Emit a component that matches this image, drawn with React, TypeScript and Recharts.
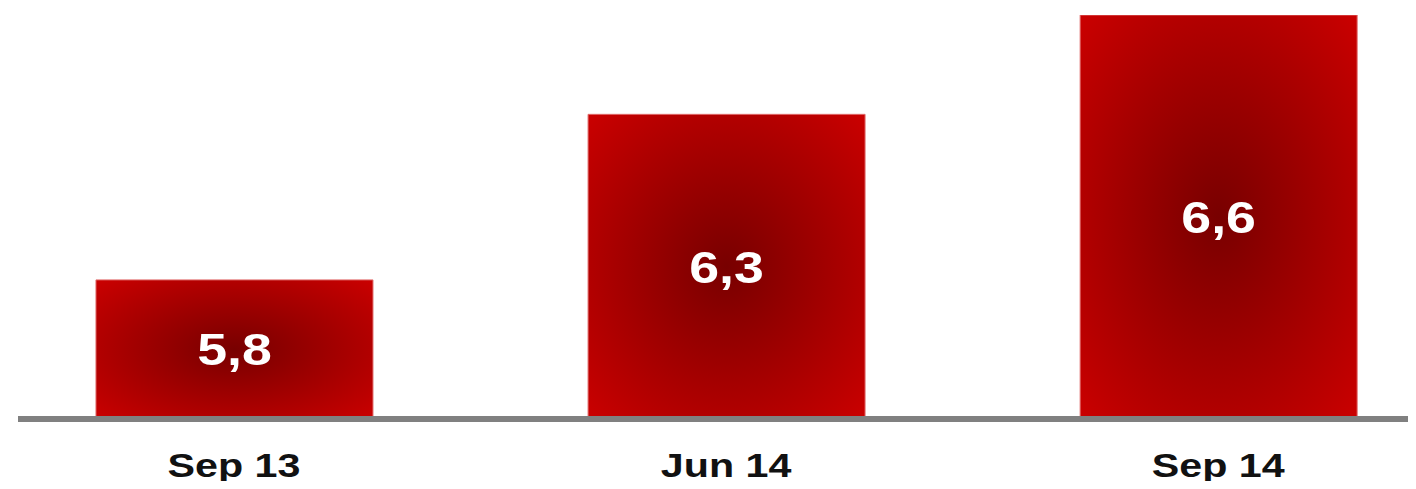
import React from 'react';
import { BarChart, Bar, XAxis, YAxis, LabelList } from 'recharts';

const periods = ['Sep 13', 'Jun 14', 'Sep 14'];
const values = [5.8, 6.3, 6.6];

const data = periods.map((period, i) => ({ idx: i, period, value: values[i] }));

// the source picture is stretched horizontally, so text gets a scaleX too
const STRETCH = 1.25;

const PeriodTick = (props: any) => {
  const { x, y, payload } = props;
  return (
    <text
      x={x}
      y={y + 50}
      textAnchor="middle"
      fill="#111"
      fontSize={33}
      fontWeight="bold"
      fontFamily="'Liberation Sans', Arial, sans-serif"
      transform={`translate(${x},0) scale(${STRETCH},1) translate(${-x},0)`}
    >
      {periods[payload.value]}
    </text>
  );
};

const ValueLabel = (props: any) => {
  const { x, y, width, height, value } = props;
  const cx = x + width / 2;
  const cy = y + height / 2;
  return (
    <text
      x={cx}
      y={cy + 16}
      textAnchor="middle"
      fill="#fff"
      fontSize={44}
      fontWeight="bold"
      fontFamily="'Liberation Sans', Arial, sans-serif"
      transform={`translate(${cx},0) scale(1.22,1) translate(${-cx},0)`}
    >
      {String(value).replace('.', ',')}
    </text>
  );
};

const App: React.FC = () => {
  return (
    <div style={{ margin: '-8px 0 -8px -8px', width: 1416, height: 489 }}>
      <BarChart
        width={1416}
        height={489}
        data={data}
        margin={{ top: 15, right: 0, left: 18, bottom: 8 }}
      >
        <defs>
          <radialGradient id="redGlow" cx="0.5" cy="0.5" r="0.72">
            <stop offset="0%" stopColor="#780000" />
            <stop offset="100%" stopColor="#cc0000" />
          </radialGradient>
        </defs>
        <YAxis hide domain={[5.38, 6.6]} allowDataOverflow />
        <Bar
          dataKey="value"
          fill="url(#redGlow)"
          stroke="#e06a6a"
          strokeWidth={1}
          barSize={277}
          isAnimationActive={false}
        >
          <LabelList dataKey="value" content={<ValueLabel />} />
        </Bar>
        <XAxis
          dataKey="idx"
          type="number"
          domain={[-0.439, 2.402]}
          ticks={[0, 1, 2]}
          height={62}
          tickLine={false}
          axisLine={{ stroke: '#808080', strokeWidth: 6 }}
          tick={<PeriodTick />}
          allowDataOverflow
        />
      </BarChart>
    </div>
  );
};

export default App;
